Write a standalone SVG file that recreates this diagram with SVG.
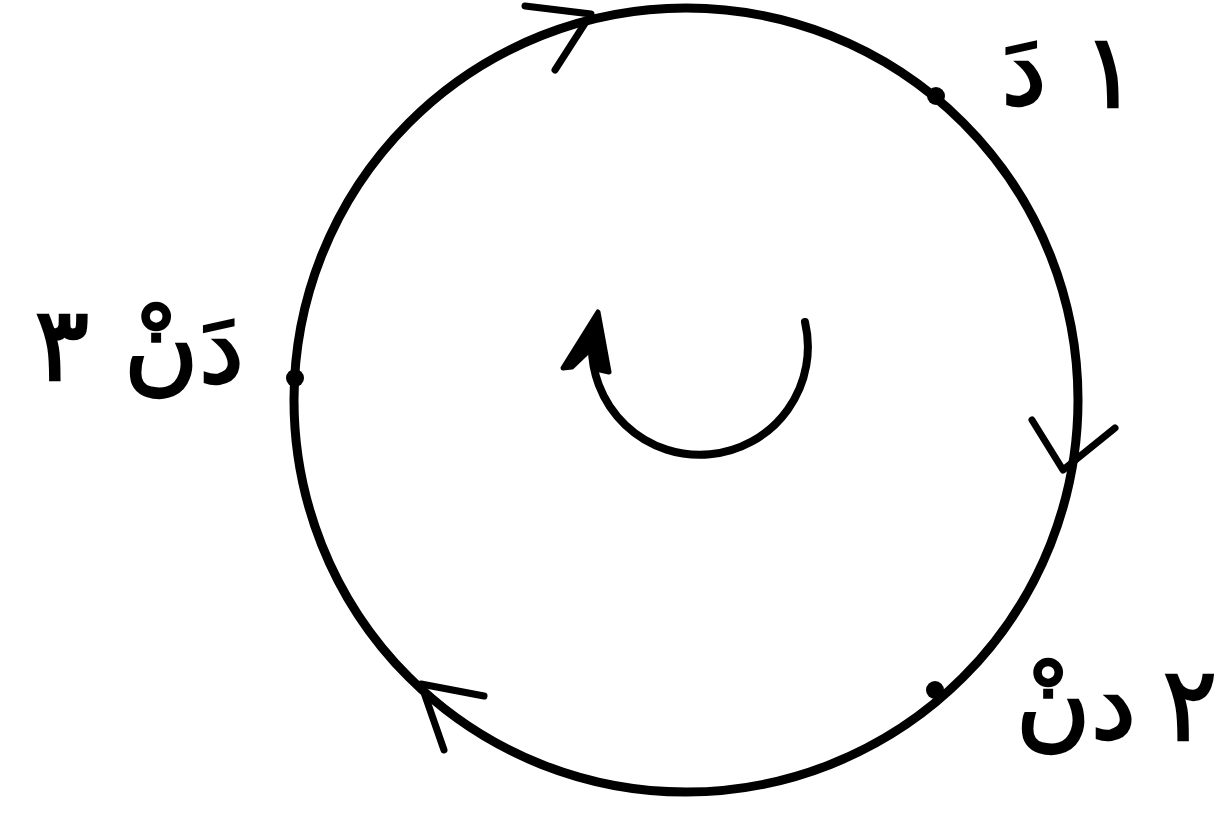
<svg xmlns="http://www.w3.org/2000/svg" width="1216" height="832" viewBox="0 0 1216 832">
<style>
.ln{fill:none;stroke:#000;stroke-linecap:round;stroke-linejoin:round}
.lbl{font-family:"DejaVu Sans",sans-serif;font-size:102px;fill:#000;stroke:#000;stroke-width:2.5;text-anchor:middle}
</style>
<rect width="1216" height="832" fill="#fff"/>
<g id="connectors">
<circle class="ln" cx="686" cy="400" r="392" stroke-width="9"/>
<path class="ln" d="M525 6 L591 14 L555 70" stroke-width="7"/>
<path class="ln" d="M1032 420 L1063 470 L1115 428" stroke-width="7"/>
<path class="ln" d="M484 696 L421 684 L444 750" stroke-width="7"/>
<path class="ln" d="M805 322 A108 108 0 1 1 592 342" stroke-width="8"/>
<path d="M563 368 L598 312 L609 372 L600 370 L595 345 L572 367 Z" fill="#000" stroke="#000" stroke-width="5" stroke-linejoin="round"/>
</g>
<g id="node-d1">
<circle cx="936" cy="96" r="9" fill="#000"/>
<text class="lbl" x="1024" y="104">دَ</text>
<text class="lbl" x="1110" y="107">١</text>
</g>
<g id="node-d2">
<circle cx="935" cy="690" r="9" fill="#000"/>
<text class="lbl" x="1076" y="738">دنْ</text>
<text class="lbl" x="1190" y="740">٢</text>
</g>
<g id="node-d3">
<circle cx="295" cy="378" r="9" fill="#000"/>
<text class="lbl" x="184" y="382">دَنْ</text>
<text class="lbl" x="62" y="380">٣</text>
</g>
</svg>
